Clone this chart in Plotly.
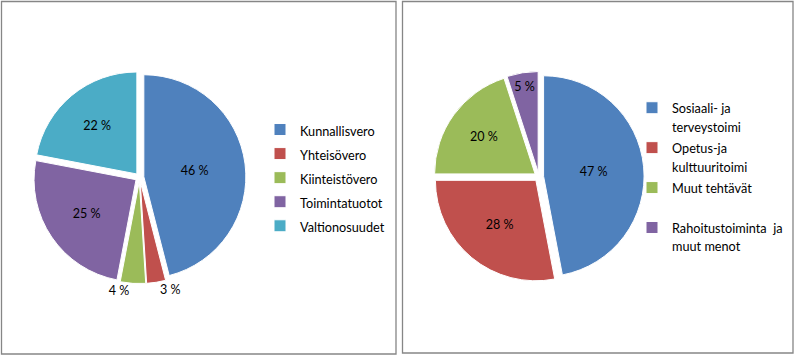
import plotly.graph_objects as go

W, H = 794, 356

# Left pie: income
income_labels = ["Kunnallisvero", "Yhteisövero", "Kiinteistövero", "Toimintatuotot", "Valtionosuudet"]
income_values = [46, 3, 4, 25, 22]
income_colors = ["#4F81BD", "#C0504D", "#9BBB59", "#8064A2", "#4BACC6"]
income_textpos = ["inside", "outside", "outside", "inside", "inside"]

# Right pie: expenses
expense_labels = ["Sosiaali- ja<br>terveystoimi", "Opetus-ja<br>kulttuuritoimi",
                  "Muut tehtävät<br>\u00a0", "Rahoitustoiminta\u00a0 ja<br>muut menot"]
expense_values = [47, 28, 20, 5]
expense_colors = ["#4F81BD", "#C0504D", "#9BBB59", "#8064A2"]

FONT = "Lato, Calibri, Carlito, sans-serif"
TXT = 12.7

def px_x(v):
    return v / W

def px_y(v):
    return 1 - v / H

def styled(labels):
    # keep visible text size while the legend's font size sets row spacing
    return ["<span style='font-size:%.1fpx'>%s</span>" % (TXT, l.replace("<br>", "</span><br><span style='font-size:%.1fpx'>" % TXT)) for l in labels]

fig = go.Figure()

fig.add_trace(go.Pie(
    labels=styled(income_labels), values=income_values, sort=False,
    direction="clockwise", rotation=0,
    marker=dict(colors=income_colors, line=dict(color="white", width=1)),
    pull=0.042,
    texttemplate="%{value} %", textposition=income_textpos,
    textfont=dict(color="#000000", size=12.5, family=FONT),
    domain=dict(x=[0.0419, 0.3097], y=[0.2034, 0.8006]),
    legend="legend", hoverinfo="label+percent",
))

fig.add_trace(go.Pie(
    labels=styled(expense_labels), values=expense_values, sort=False,
    direction="clockwise", rotation=0,
    marker=dict(colors=expense_colors, line=dict(color="white", width=1)),
    pull=0.047,
    texttemplate="%{value} %", textposition="inside",
    insidetextorientation="horizontal",
    textfont=dict(color="#000000", size=12.5, family=FONT),
    domain=dict(x=[0.5462, 0.8112], y=[0.2082, 0.7992]),
    legend="legend2", hoverinfo="label+percent",
))

fig.update_layout(
    width=W, height=H,
    margin=dict(l=0, r=0, t=0, b=0),
    paper_bgcolor="white", plot_bgcolor="white",
    font=dict(family=FONT, size=12.5, color="#000000"),
    legend=dict(x=px_x(260), y=px_y(178), xanchor="left", yanchor="middle",
                font=dict(size=16.2, family=FONT, color="#000000"),
                bgcolor="rgba(0,0,0,0)"),
    legend2=dict(x=px_x(632), y=px_y(177), xanchor="left", yanchor="middle",
                 font=dict(size=14.2, family=FONT, color="#000000"), valign="top",
                 bgcolor="rgba(0,0,0,0)"),
    shapes=[
        dict(type="rect", xref="paper", yref="paper",
             x0=px_x(1.5), x1=px_x(396), y0=px_y(354), y1=px_y(1.5),
             line=dict(color="#868686", width=1.3), fillcolor="rgba(0,0,0,0)"),
        dict(type="rect", xref="paper", yref="paper",
             x0=px_x(402.5), x1=px_x(793), y0=px_y(353), y1=px_y(1.5),
             line=dict(color="#868686", width=1.3), fillcolor="rgba(0,0,0,0)"),
    ],
)

fig.write_html("out.html", config={"displayModeBar": False},
               post_script="document.body.style.margin='0';document.body.style.overflow='hidden';")
